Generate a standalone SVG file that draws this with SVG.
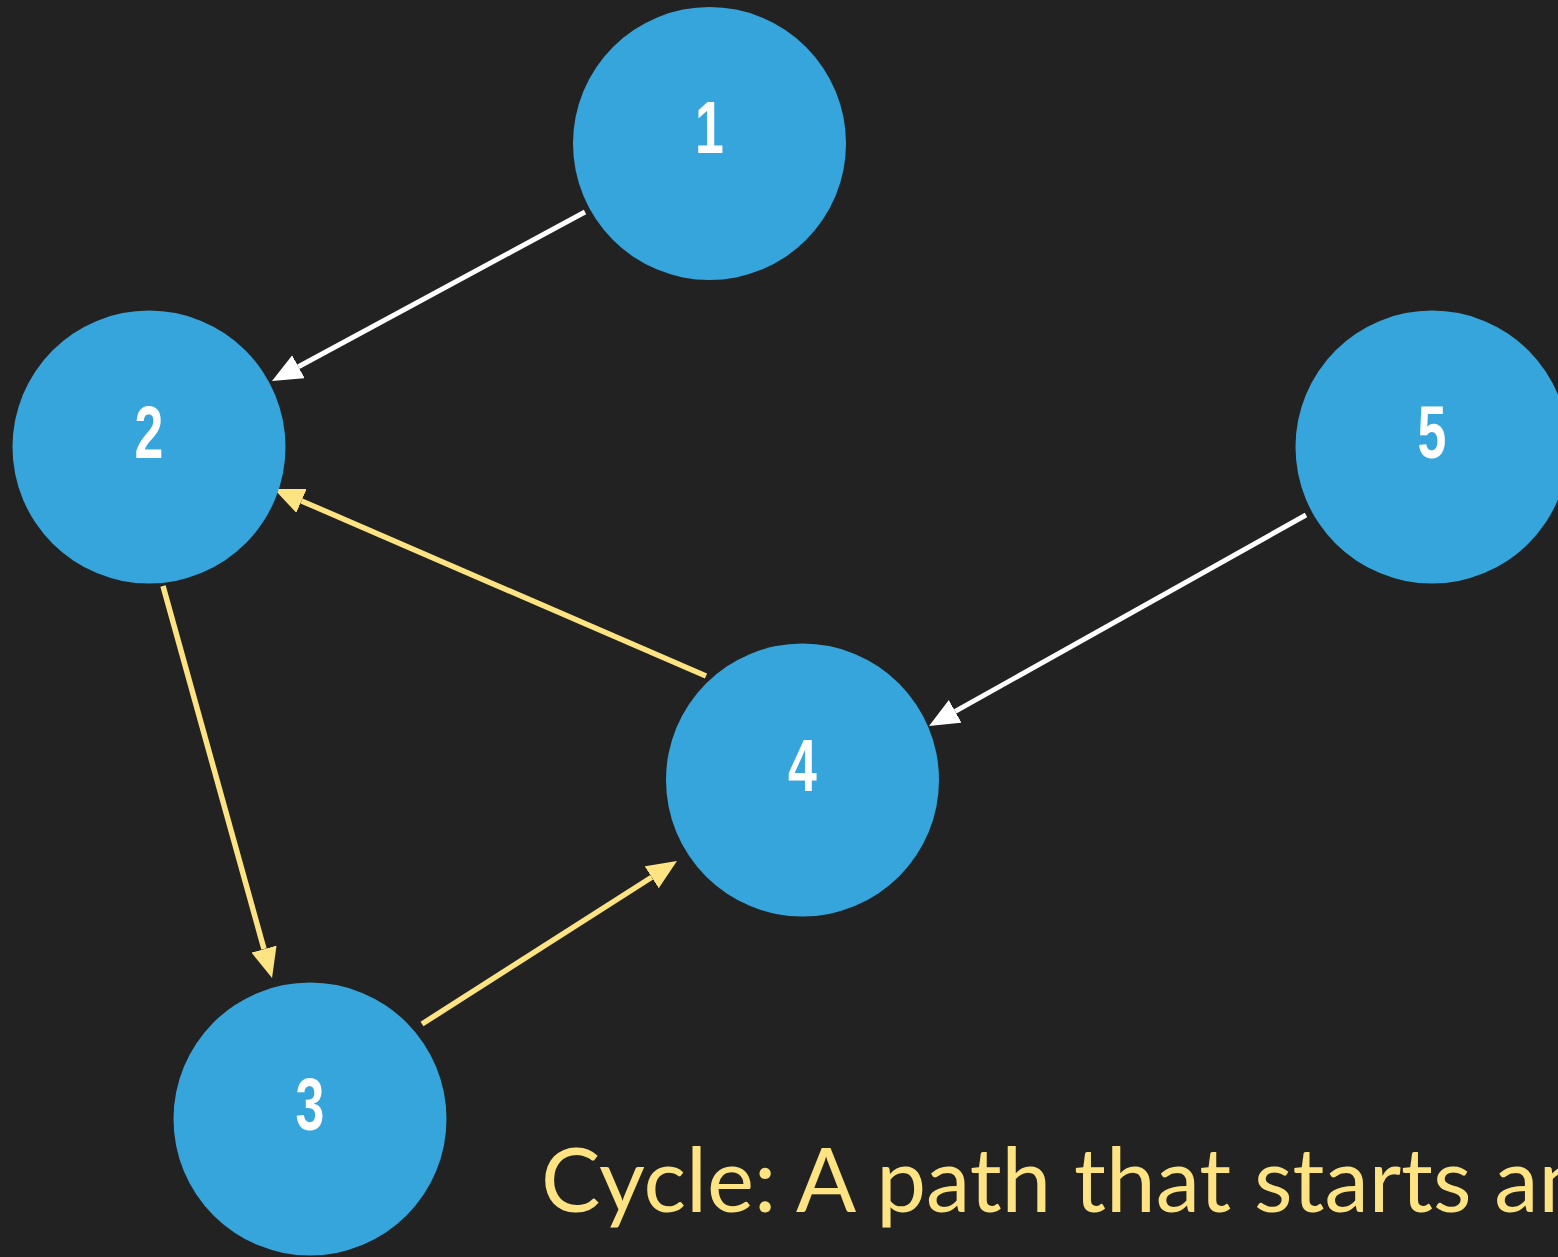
<svg xmlns="http://www.w3.org/2000/svg" width="1558" height="1257" viewBox="0 0 1558 1257">
<style>
.node{fill:#35A5DB}
.num{font-family:"Liberation Sans",sans-serif;font-weight:bold;font-size:74px;fill:#FFFFFF;text-anchor:middle}
.w{stroke:#FFFFFF;stroke-width:5;fill:none}
.y{stroke:#FDE381;stroke-width:5.5;fill:none}
.cap{font-family:Lato,"Open Sans",sans-serif;font-size:89px;fill:#FDE381}
</style>
<defs>
<marker id="aw" markerUnits="userSpaceOnUse" markerWidth="32" markerHeight="28" refX="0" refY="13" orient="auto" viewBox="0 0 32 28"><path d="M0,0 L30,13 L0,26 z" fill="#FFFFFF"/></marker>
<marker id="ay" markerUnits="userSpaceOnUse" markerWidth="32" markerHeight="28" refX="0" refY="13" orient="auto" viewBox="0 0 32 28"><path d="M0,0 L30,13 L0,26 z" fill="#FDE381"/></marker>
</defs>
<rect width="1558" height="1257" fill="#222222"/>
<g id="connectors">
<line class="w" x1="585" y1="212" x2="298.4" y2="366.7" marker-end="url(#aw)"/>
<line class="y" x1="706" y1="676" x2="301.5" y2="500.9" marker-end="url(#ay)"/>
<line class="y" x1="163" y1="586" x2="264" y2="949.1" marker-end="url(#ay)"/>
<line class="y" x1="422" y1="1024" x2="651.7" y2="877.2" marker-end="url(#ay)"/>
<line class="w" x1="1306" y1="515" x2="955.2" y2="711.4" marker-end="url(#aw)"/>
</g>
<g id="node1"><circle class="node" cx="709.5" cy="143.5" r="136.5"/><text class="num" transform="translate(709.5,153) scale(0.7,1)">1</text></g>
<g id="node2"><circle class="node" cx="149" cy="447" r="136.5"/><text class="num" transform="translate(149,458) scale(0.7,1)">2</text></g>
<g id="node5"><circle class="node" cx="1432" cy="447" r="136.5"/><text class="num" transform="translate(1432,458) scale(0.7,1)">5</text></g>
<g id="node4"><circle class="node" cx="802.5" cy="780" r="136.5"/><text class="num" transform="translate(802.5,791) scale(0.7,1)">4</text></g>
<g id="node3"><circle class="node" cx="310" cy="1119" r="136.5"/><text class="num" transform="translate(310,1130) scale(0.7,1)">3</text></g>
<text class="cap" x="541" y="1212">Cycle: A path that starts and</text>
</svg>
